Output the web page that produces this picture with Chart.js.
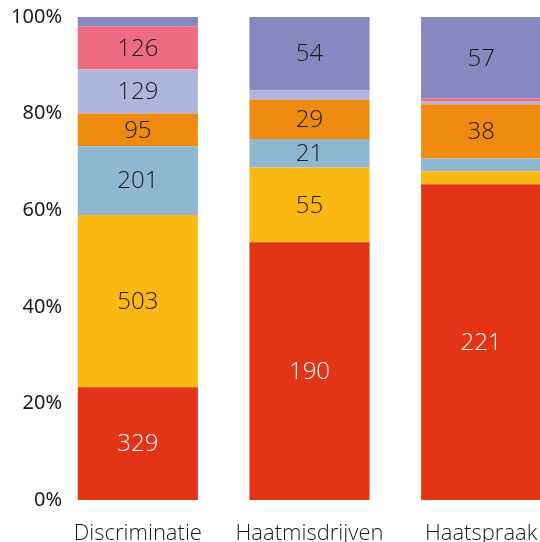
<!DOCTYPE html>
<html>
<head>
<meta charset="utf-8">
<script src="https://cdn.jsdelivr.net/npm/chart.js@4"></script>
<style>
  html, body { margin: 0; padding: 0; background: #fff; overflow: hidden; }
  #wrap { position: relative; width: 570px; height: 542px; }
</style>
</head>
<body>
<div id="wrap"><canvas id="c"></canvas></div>
<script>
const categories = ['Discriminatie', 'Haatmisdrijven', 'Haatspraak'];
// segments from bottom to top
const seriesRed      = [329, 190, 221];
const seriesYellow   = [503, 55, 9];
const seriesBlue     = [201, 21, 9];
const seriesOrange   = [95, 29, 38];
const seriesLavender = [129, 7, 2];
const seriesPink     = [126, 0, 2];
const seriesPurple   = [27, 54, 57];
const yTicks = [0, 20, 40, 60, 80, 100];

const raw = [seriesRed, seriesYellow, seriesBlue, seriesOrange, seriesLavender, seriesPink, seriesPurple];
const colors = ['#E43417', '#FBB813', '#8EB7D1', '#F08B12', '#B0B5DD', '#EE6C82', '#8888C0'];
const labelColors = ['#ffffff', '#1a1a1a', '#1a1a1a', '#1a1a1a', '#1a1a1a', '#1a1a1a', '#1a1a1a'];
const totals = categories.map((_, i) => raw.reduce((s, a) => s + a[i], 0));

const tickFont = '20px "Noto Sans"';
const mctx = document.createElement('canvas').getContext('2d');
mctx.font = tickFont;
const widest = mctx.measureText('100%').width;

const datasets = raw.map((arr, k) => ({
  data: arr.map((v, i) => v / totals[i] * 100),
  rawValues: arr,
  backgroundColor: colors[k],
  borderWidth: 0,
  categoryPercentage: 1.0,
  barPercentage: 0.7
}));

const labelPlugin = {
  id: 'segLabels',
  afterDatasetsDraw(chart) {
    const ctx = chart.ctx;
    ctx.save();
    ctx.font = '300 24px "Open Sans"';
    ctx.textAlign = 'center';
    ctx.textBaseline = 'middle';
    chart.data.datasets.forEach((ds, k) => {
      const meta = chart.getDatasetMeta(k);
      meta.data.forEach((el, i) => {
        const v = ds.rawValues[i];
        const h = el.base - el.y;
        if (!v || h < 22) return;
        ctx.fillStyle = labelColors[k];
        ctx.fillText(String(v), el.x, (el.y + el.base) / 2 + 1);
      });
    });
    ctx.restore();
  }
};

new Chart(document.getElementById('c'), {
  type: 'bar',
  data: { labels: categories, datasets },
  options: {
    responsive: true,
    maintainAspectRatio: false,
    animation: false,
    layout: { padding: { top: 17, right: 3, bottom: 0, left: 0 } },
    plugins: { legend: { display: false }, tooltip: { enabled: false } },
    scales: {
      x: {
        stacked: true,
        afterFit(axis) { axis.height = 42; },
        grid: { display: false, drawTicks: false },
        border: { display: false },
        ticks: { color: '#1a1a1a', font: { family: 'Open Sans', size: 22, weight: 300 }, padding: 21, maxRotation: 0 }
      },
      y: {
        stacked: true,
        min: 0, max: 100,
        afterBuildTicks(axis) { axis.ticks = yTicks.map(v => ({ value: v })); },
        afterFit(axis) { axis.width = 52; },
        grid: { display: false, drawTicks: false },
        border: { display: false },
        ticks: { color: '#1a1a1a', font: { family: 'Noto Sans', size: 20 },
                 mirror: true, crossAlign: 'far', padding: 10 - widest, z: 1,
                 callback: v => v + '%' }
      }
    }
  },
  plugins: [labelPlugin]
});
</script>
</body>
</html>
